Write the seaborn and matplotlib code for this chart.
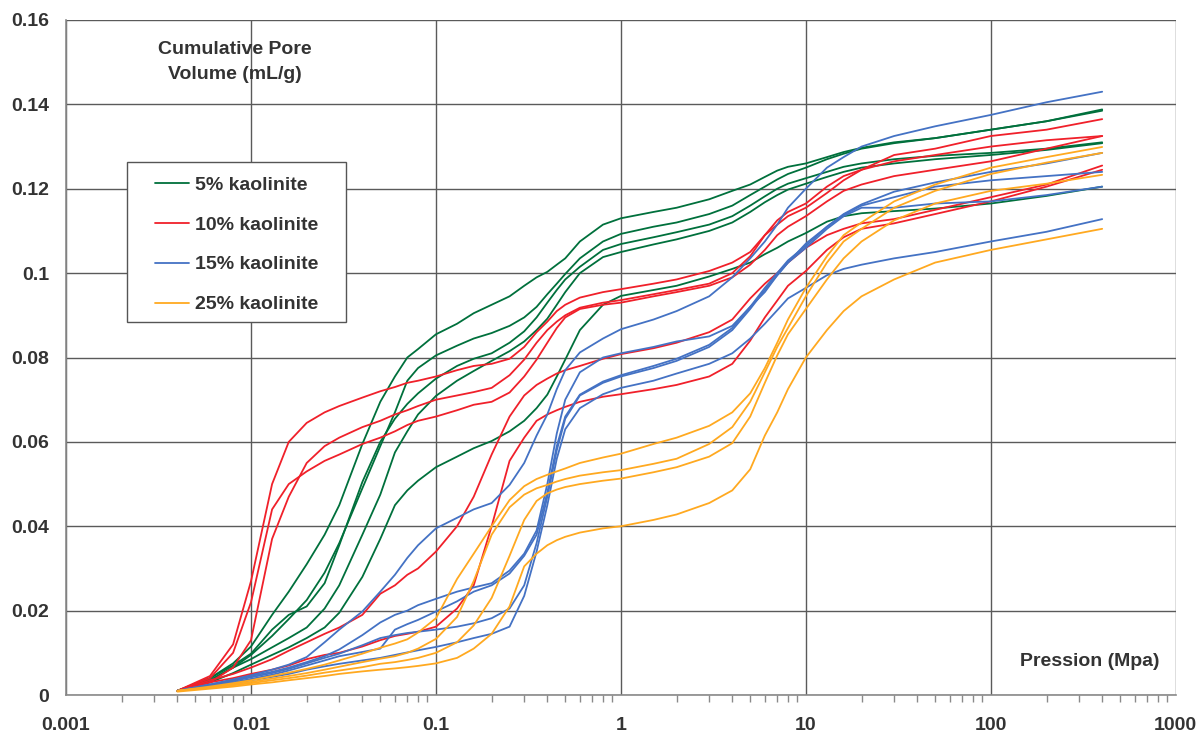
import numpy as np
import pandas as pd
import matplotlib
matplotlib.use('Agg')
import matplotlib.pyplot as plt
from matplotlib.patches import Rectangle
from matplotlib.ticker import LogLocator, FixedLocator, FuncFormatter, NullFormatter
import seaborn as sns

# ----------------------- Data ---------------------
PRESSURE = [0.004, 0.006, 0.008, 0.01, 0.013, 0.016, 0.02, 0.025, 0.03, 0.04,
            0.05, 0.06, 0.07, 0.08, 0.1, 0.13, 0.16, 0.2, 0.25, 0.3,
            0.35, 0.4, 0.45, 0.5, 0.6, 0.8, 1, 1.5, 2, 3,
            4, 5, 6, 7, 8, 10, 13, 16, 20, 30,
            50, 100, 200, 400]

# 5 % kaolinite
green_1 = [0.001, 0.004, 0.0075, 0.0115, 0.019, 0.0245, 0.031, 0.038, 0.045, 0.0595,
           0.0695, 0.0755, 0.080, 0.082, 0.0855, 0.088, 0.0905, 0.0925, 0.0945, 0.097,
           0.099, 0.1003, 0.102, 0.1035, 0.1075, 0.1115, 0.113, 0.1145, 0.1155, 0.1175,
           0.1195, 0.121, 0.1228, 0.1243, 0.1252, 0.126, 0.1275, 0.1287, 0.1297, 0.131,
           0.132, 0.134, 0.136, 0.1388]
green_2 = [0.001, 0.0035, 0.0065, 0.0095, 0.014, 0.018, 0.0225, 0.029, 0.036, 0.049,
           0.059, 0.067, 0.0745, 0.0775, 0.0805, 0.0828, 0.0845, 0.0858, 0.0875, 0.0895,
           0.092, 0.095, 0.0975, 0.0998, 0.1035, 0.1075, 0.1093, 0.111, 0.112, 0.114,
           0.116, 0.1185, 0.1205, 0.1222, 0.1235, 0.125, 0.127, 0.1283, 0.1295, 0.1308,
           0.132, 0.134, 0.136, 0.1385]
green_3 = [0.001, 0.004, 0.007, 0.0098, 0.0155, 0.019, 0.021, 0.0265, 0.0355, 0.0505,
           0.060, 0.0655, 0.069, 0.0715, 0.075, 0.078, 0.0797, 0.081, 0.0835, 0.0862,
           0.0895, 0.093, 0.096, 0.0985, 0.1015, 0.1055, 0.1069, 0.1085, 0.1097, 0.1115,
           0.1135, 0.116, 0.1182, 0.120, 0.1212, 0.1225, 0.124, 0.1252, 0.126, 0.127,
           0.1278, 0.1285, 0.1295, 0.131]
green_4 = [0.001, 0.0035, 0.0065, 0.0085, 0.0113, 0.0135, 0.016, 0.0205, 0.026, 0.038,
           0.0475, 0.0575, 0.0625, 0.0665, 0.0709, 0.0745, 0.0768, 0.0792, 0.0815, 0.0838,
           0.0865, 0.0892, 0.0925, 0.0955, 0.100, 0.1038, 0.105, 0.1068, 0.108, 0.110,
           0.112, 0.1145, 0.1168, 0.1185, 0.1198, 0.1212, 0.1228, 0.124, 0.125, 0.126,
           0.127, 0.128, 0.1292, 0.1308]
green_5 = [0.001, 0.003, 0.0052, 0.0072, 0.0095, 0.0113, 0.0135, 0.016, 0.0195, 0.028,
           0.037, 0.045, 0.0485, 0.0508, 0.054, 0.0565, 0.0585, 0.0602, 0.0625, 0.065,
           0.068, 0.0712, 0.0755, 0.0795, 0.0865, 0.0925, 0.0946, 0.096, 0.097, 0.0992,
           0.101, 0.1025, 0.1045, 0.106, 0.1075, 0.1095, 0.1122, 0.1135, 0.1142, 0.1147,
           0.1153, 0.1165, 0.1183, 0.1205]

# 10 % kaolinite
red_1 = [0.001, 0.0045, 0.012, 0.027, 0.050, 0.060, 0.0645, 0.067, 0.0685, 0.0705,
         0.072, 0.073, 0.074, 0.0745, 0.0755, 0.077, 0.078, 0.0785, 0.0797, 0.0825,
         0.086, 0.0885, 0.091, 0.0925, 0.0942, 0.0955, 0.0962, 0.0975, 0.0985, 0.1005,
         0.1025, 0.105, 0.109, 0.1115, 0.1135, 0.1155, 0.119, 0.122, 0.1245, 0.128,
         0.1295, 0.1325, 0.134, 0.1365]
red_2 = [0.001, 0.003, 0.0065, 0.013, 0.037, 0.047, 0.055, 0.059, 0.061, 0.0635,
         0.065, 0.0665, 0.0675, 0.0685, 0.070, 0.071, 0.0718, 0.0728, 0.0758, 0.0795,
         0.0835, 0.0865, 0.0885, 0.090, 0.0918, 0.093, 0.0936, 0.095, 0.096, 0.0975,
         0.100, 0.104, 0.109, 0.1125, 0.1145, 0.1165, 0.1205, 0.123, 0.1245, 0.1265,
         0.128, 0.130, 0.1315, 0.1325]
red_3 = [0.001, 0.004, 0.010, 0.022, 0.044, 0.050, 0.053, 0.0555, 0.057, 0.0595,
         0.061, 0.0625, 0.064, 0.065, 0.066, 0.0675, 0.0688, 0.0695, 0.0717, 0.0755,
         0.0795, 0.0835, 0.087, 0.0895, 0.0915, 0.0925, 0.093, 0.0945, 0.0955, 0.097,
         0.099, 0.102, 0.1055, 0.109, 0.111, 0.1135, 0.117, 0.1195, 0.121, 0.123,
         0.1245, 0.1265, 0.1295, 0.1325]
red_4 = [0.001, 0.0035, 0.005, 0.0065, 0.0085, 0.0105, 0.0125, 0.0145, 0.016, 0.019,
         0.024, 0.026, 0.0285, 0.030, 0.034, 0.040, 0.047, 0.057, 0.066, 0.071,
         0.0735, 0.075, 0.0762, 0.077, 0.078, 0.0797, 0.0808, 0.0822, 0.0835, 0.086,
         0.089, 0.094, 0.0975, 0.100, 0.1025, 0.106, 0.109, 0.1105, 0.1118, 0.1128,
         0.115, 0.118, 0.121, 0.1255]
red_5 = [0.001, 0.003, 0.004, 0.005, 0.006, 0.007, 0.0085, 0.0095, 0.010, 0.0115,
         0.013, 0.014, 0.0145, 0.015, 0.0162, 0.0205, 0.026, 0.040, 0.0555, 0.061,
         0.065, 0.0665, 0.0675, 0.0683, 0.0695, 0.0707, 0.0713, 0.0725, 0.0735, 0.0755,
         0.0785, 0.084, 0.0895, 0.0935, 0.097, 0.1005, 0.1055, 0.1085, 0.1105, 0.1118,
         0.114, 0.117, 0.1205, 0.1245]

# 15 % kaolinite
blue_1 = [0.001, 0.0025, 0.0037, 0.0047, 0.006, 0.0072, 0.009, 0.0125, 0.0155, 0.0198,
          0.0245, 0.0285, 0.0325, 0.0355, 0.0395, 0.042, 0.044, 0.0455, 0.0498, 0.055,
          0.0615, 0.0665, 0.0725, 0.077, 0.0812, 0.0845, 0.0867, 0.089, 0.091, 0.0945,
          0.099, 0.1035, 0.1075, 0.1115, 0.1155, 0.120, 0.125, 0.1275, 0.130, 0.1325,
          0.1348, 0.1375, 0.1405, 0.143]
blue_2 = [0.001, 0.0025, 0.0035, 0.0045, 0.0055, 0.0065, 0.0078, 0.0092, 0.0108, 0.0142,
          0.0172, 0.019, 0.020, 0.0213, 0.0228, 0.0245, 0.0255, 0.0265, 0.0295, 0.0335,
          0.039, 0.050, 0.062, 0.070, 0.0765, 0.080, 0.081, 0.0825, 0.0838, 0.085,
          0.0875, 0.092, 0.0955, 0.0995, 0.1025, 0.107, 0.111, 0.114, 0.1163, 0.1193,
          0.1215, 0.124, 0.126, 0.1285]
blue_3 = [0.001, 0.002, 0.003, 0.0038, 0.0048, 0.0058, 0.007, 0.0082, 0.0092, 0.0102,
          0.011, 0.0155, 0.0168, 0.0178, 0.0198, 0.0222, 0.0245, 0.026, 0.0288, 0.033,
          0.038, 0.048, 0.059, 0.066, 0.0712, 0.0743, 0.0758, 0.078, 0.0797, 0.083,
          0.087, 0.092, 0.0965, 0.100, 0.103, 0.1065, 0.111, 0.1138, 0.116, 0.118,
          0.1205, 0.122, 0.123, 0.124]
blue_4 = [0.001, 0.0022, 0.0033, 0.0042, 0.0052, 0.0062, 0.0075, 0.0088, 0.0098, 0.0118,
          0.0135, 0.0142, 0.0147, 0.015, 0.0155, 0.0162, 0.017, 0.0182, 0.0205, 0.026,
          0.036, 0.047, 0.058, 0.0655, 0.071, 0.074, 0.0755, 0.0775, 0.0792, 0.0825,
          0.0865, 0.0915, 0.096, 0.0995, 0.1025, 0.106, 0.1105, 0.1135, 0.1155, 0.1155,
          0.1165, 0.117, 0.1185, 0.1205]
blue_5 = [0.001, 0.002, 0.0028, 0.0035, 0.0043, 0.005, 0.006, 0.0068, 0.0074, 0.0082,
          0.0088, 0.0095, 0.0101, 0.0106, 0.0114, 0.0125, 0.0135, 0.0145, 0.0162, 0.0235,
          0.034, 0.045, 0.056, 0.063, 0.068, 0.0713, 0.0728, 0.0745, 0.0762, 0.0785,
          0.081, 0.0845, 0.088, 0.0912, 0.094, 0.0965, 0.0995, 0.101, 0.102, 0.1035,
          0.105, 0.1075, 0.1098, 0.1128]

# 25 % kaolinite
orange_1 = [0.001, 0.002, 0.0028, 0.0035, 0.0045, 0.0053, 0.0062, 0.0072, 0.0082, 0.0098,
            0.0112, 0.0122, 0.0132, 0.0148, 0.0182, 0.0275, 0.0335, 0.040, 0.0462, 0.0495,
            0.0512, 0.0522, 0.053, 0.0537, 0.055, 0.0563, 0.0572, 0.0595, 0.061, 0.0638,
            0.067, 0.0715, 0.0775, 0.0835, 0.089, 0.0965, 0.104, 0.109, 0.112, 0.117,
            0.121, 0.125, 0.1275, 0.1299]
orange_2 = [0.001, 0.0018, 0.0025, 0.0031, 0.0039, 0.0045, 0.0052, 0.006, 0.0067, 0.0078,
            0.0086, 0.0092, 0.010, 0.011, 0.0133, 0.0185, 0.027, 0.038, 0.0445, 0.0475,
            0.049, 0.0498, 0.0506, 0.0512, 0.052, 0.0528, 0.0533, 0.0548, 0.056, 0.0595,
            0.0635, 0.0695, 0.0765, 0.0825, 0.087, 0.0945, 0.1025, 0.1075, 0.1105, 0.1155,
            0.1195, 0.1235, 0.1262, 0.1285]
orange_3 = [0.001, 0.0017, 0.0023, 0.0028, 0.0035, 0.004, 0.0046, 0.0053, 0.0058, 0.0066,
            0.0074, 0.0078, 0.0083, 0.0088, 0.010, 0.0125, 0.0165, 0.023, 0.033, 0.0415,
            0.046, 0.0478, 0.0487, 0.0493, 0.050, 0.0508, 0.0513, 0.0528, 0.054, 0.0565,
            0.0597, 0.066, 0.074, 0.0805, 0.0855, 0.0915, 0.0985, 0.1035, 0.1075, 0.1125,
            0.1165, 0.1195, 0.1212, 0.1233]
orange_4 = [0.0008, 0.0015, 0.002, 0.0025, 0.003, 0.0035, 0.004, 0.0045, 0.005, 0.0056,
            0.006, 0.0063, 0.0066, 0.0069, 0.0075, 0.0088, 0.011, 0.0145, 0.021, 0.0305,
            0.0335, 0.0355, 0.0367, 0.0375, 0.0385, 0.0395, 0.040, 0.0415, 0.0428, 0.0455,
            0.0485, 0.0535, 0.0615, 0.067, 0.0725, 0.080, 0.0865, 0.091, 0.0945, 0.0985,
            0.1025, 0.1055, 0.108, 0.1105]

GROUPS = {
    '5% kaolinite': [green_1, green_2, green_3, green_4, green_5],
    '10% kaolinite': [red_1, red_2, red_3, red_4, red_5],
    '15% kaolinite': [blue_1, blue_2, blue_3, blue_4, blue_5],
    '25% kaolinite': [orange_1, orange_2, orange_3, orange_4],
}
COLORS = ['#00703c', '#f0202a', '#4472c4', '#ffa920']

X_TICKS = [0.001, 0.01, 0.1, 1, 10, 100, 1000]
Y_TICKS = [0, 0.02, 0.04, 0.06, 0.08, 0.1, 0.12, 0.14, 0.16]

# ----------------------- Long-form table ----------------------------------
rows = []
for group, curves in GROUPS.items():
    for i, curve in enumerate(curves):
        for p, v in zip(PRESSURE, curve):
            rows.append({'pressure': p, 'volume': v, 'group': group,
                         'sample': f'{group}-{i}'})
df = pd.DataFrame(rows)

# ----------------------- Plot ---------------------------------------------
sns.set_style('white')
plt.rcParams['font.family'] = ['Liberation Sans', 'DejaVu Sans']
TEXT = '#333333'
GRID = '#5a5a5a'
FS = 14

fig = plt.figure(figsize=(12.01, 7.35), dpi=100)
ax = fig.add_axes([0.055, 0.0544, 0.924, 0.9184])

sns.lineplot(data=df, x='pressure', y='volume', hue='group', units='sample',
             estimator=None, palette=COLORS, linewidth=1.3, ax=ax)

ax.set_xscale('log')
ax.set_xlim(0.001, 1000)
ax.set_ylim(0, 0.16)

ax.xaxis.set_major_locator(FixedLocator(X_TICKS))
ax.xaxis.set_major_formatter(FuncFormatter(lambda v, _: f'{v:g}'))
ax.xaxis.set_minor_locator(LogLocator(base=10, subs=np.arange(2, 10), numticks=20))
ax.xaxis.set_minor_formatter(NullFormatter())
ax.yaxis.set_major_locator(FixedLocator(Y_TICKS))
ax.yaxis.set_major_formatter(FuncFormatter(lambda v, _: f'{v:g}'))

ax.grid(True, which='major', color=GRID, linewidth=1.0)
ax.set_axisbelow(True)
for side in ['top', 'right']:
    ax.spines[side].set_visible(False)
for side in ['left', 'bottom']:
    ax.spines[side].set_color('#8a8a8a')
    ax.spines[side].set_linewidth(1.2)

ax.tick_params(axis='y', which='major', direction='out', length=6,
               width=1, color='#8a8a8a', labelsize=FS, labelcolor=TEXT, pad=6)
ax.tick_params(axis='x', which='major', direction='out', length=6,
               width=1, color='#8a8a8a', labelsize=FS, labelcolor=TEXT, pad=10)
ax.tick_params(axis='x', which='minor', direction='out', length=5,
               width=1, color='#8a8a8a', bottom=True)
for lab in ax.get_xticklabels() + ax.get_yticklabels():
    lab.set_fontweight('bold')

ax.set_xlabel('')
ax.set_ylabel('')

ax.text(0.152, 0.9378, 'Cumulative Pore\nVolume (mL/g)', transform=ax.transAxes,
        ha='center', va='center', fontsize=FS, fontweight='bold', color=TEXT,
        linespacing=1.55)
ax.text(0.9856, 0.049, 'Pression (Mpa)', transform=ax.transAxes,
        ha='right', va='center', fontsize=FS, fontweight='bold', color=TEXT)

# legend: frame drawn as a separate box, entries placed inside it
ax.add_patch(Rectangle((0.055, 0.5526), 0.1973, 0.237, transform=ax.transAxes,
                       facecolor='white', edgecolor='#555555', linewidth=1.0,
                       zorder=4))
handles, labels = ax.get_legend_handles_labels()
leg = ax.legend(handles, labels, loc='upper left', bbox_to_anchor=(0.0802, 0.769),
                borderaxespad=0, borderpad=0, frameon=False, fontsize=FS,
                labelspacing=1.15, handlelength=1.75, handletextpad=0.3)
leg.set_zorder(5)
for t in leg.get_texts():
    t.set_fontweight('bold')
    t.set_color(TEXT)
for line in leg.get_lines():
    line.set_linewidth(1.3)

fig.savefig('out.png', dpi=100)
